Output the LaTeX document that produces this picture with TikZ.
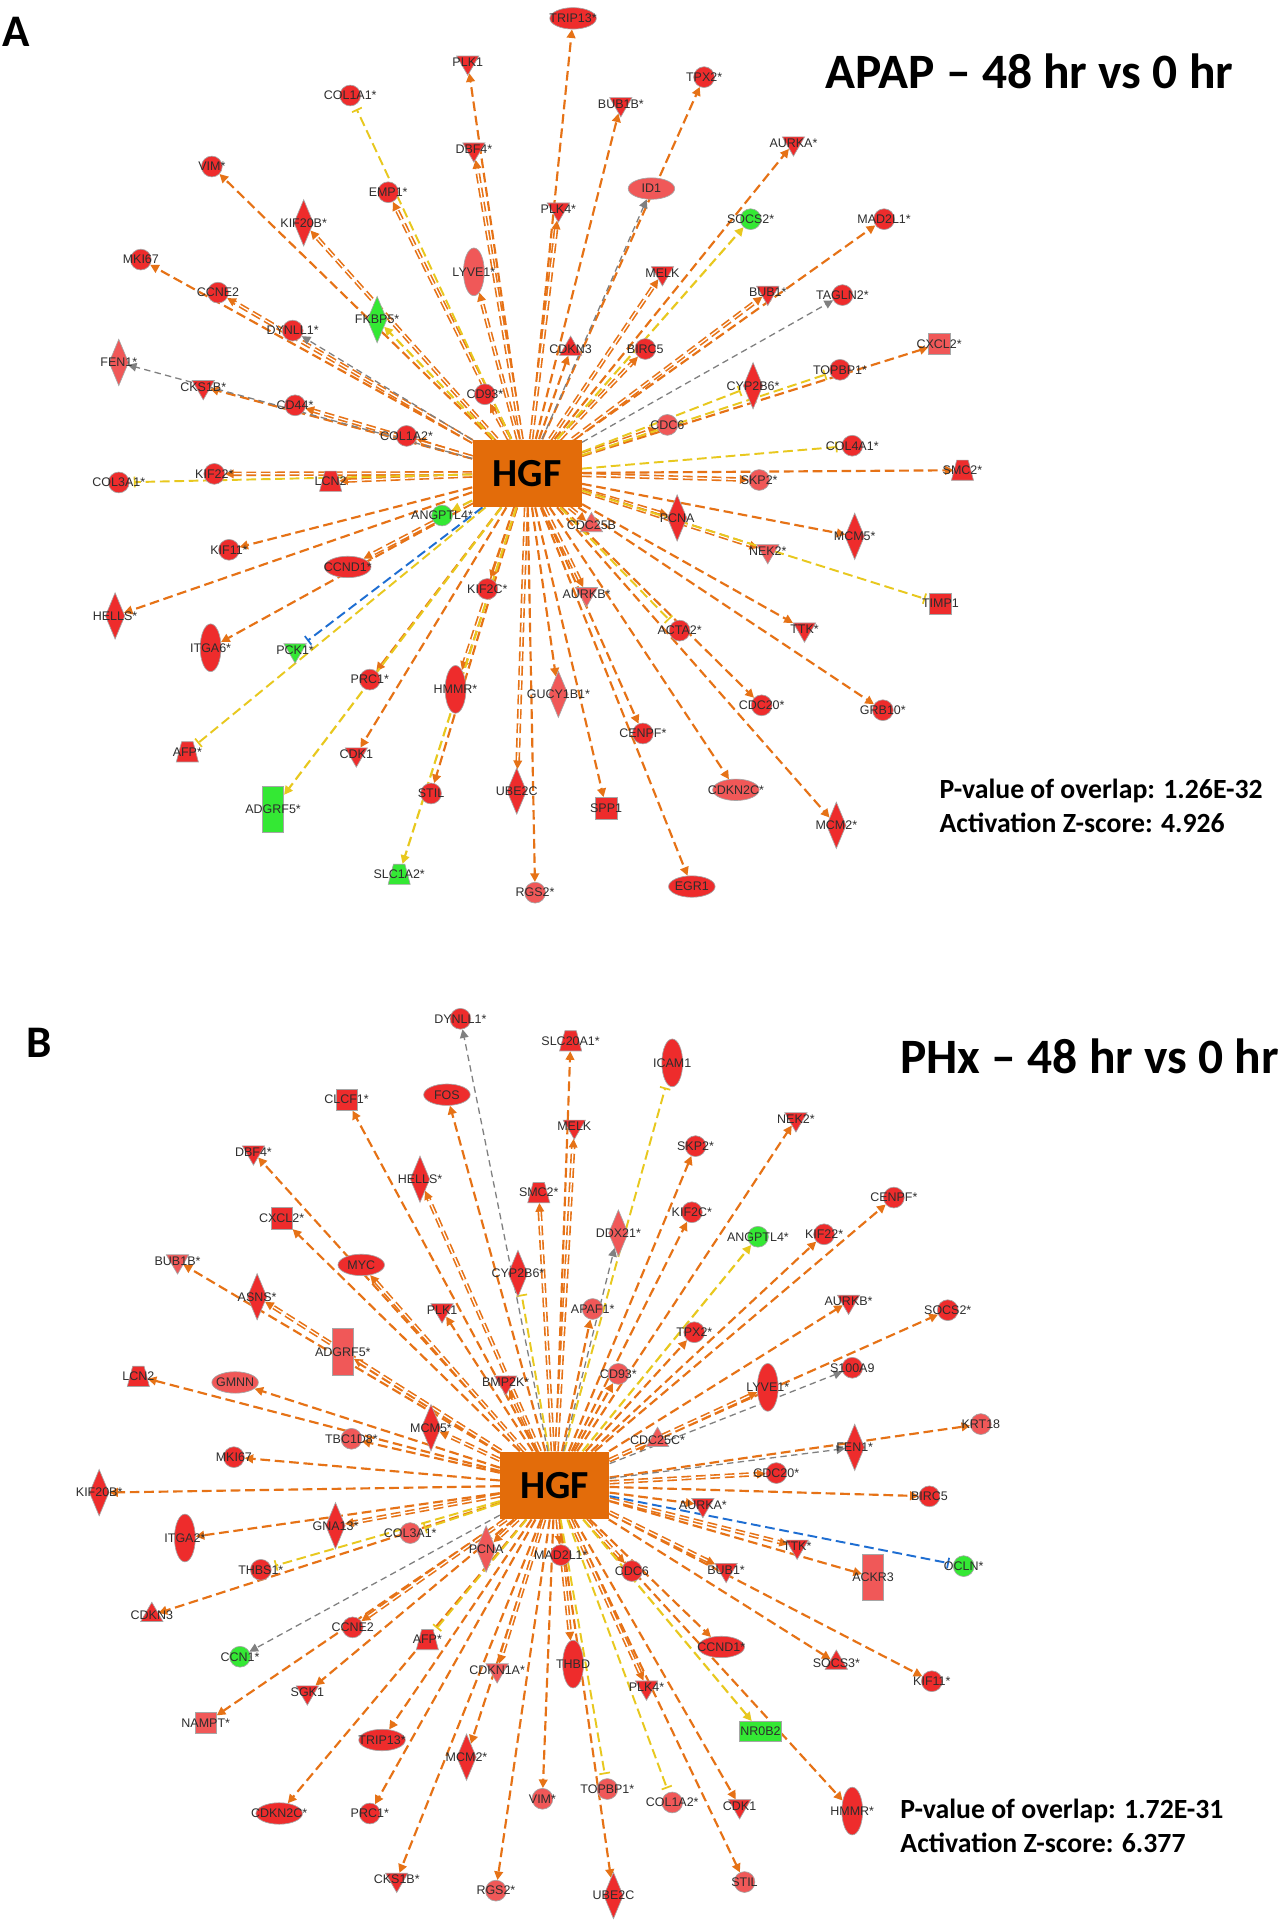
\documentclass[tikz,border=0pt]{standalone}
\usepackage{fontspec}
\setmainfont{Liberation Sans}
\newfontfamily\calib{Carlito}
\usetikzlibrary{shapes.geometric,arrows.meta}
\pgfdeclarelayer{bg}
\pgfsetlayers{bg,main}
\definecolor{hgfor}{RGB}{227,108,10}
\definecolor{eorg}{RGB}{230,114,22}
\definecolor{eyel}{RGB}{232,200,30}
\definecolor{egry}{RGB}{128,128,128}
\definecolor{eblu}{RGB}{30,110,210}
\definecolor{gred}{RGB}{238,44,44}
\definecolor{gpnk}{RGB}{240,88,88}
\definecolor{ggrn}{RGB}{52,232,52}
\definecolor{gtxt}{RGB}{45,45,45}
% one gene: name, position, shape and fill, label
\def\gene#1#2#3#4{\node[#3] (#1) at (#2) {}; \node[lbl] at (#1) {#4};}
\tikzset{
  gene/.style={draw=black!35,line width=0.3pt,inner sep=0pt},
  circ/.style={gene,circle,minimum size=0.34cm},
  dtri/.style={gene,regular polygon,regular polygon sides=3,shape border rotate=180,minimum size=0.42cm},
  utri/.style={gene,regular polygon,regular polygon sides=3,minimum size=0.42cm},
  diam/.style={gene,diamond,minimum width=0.32cm,minimum height=0.76cm},
  vell/.style={gene,ellipse,minimum width=0.34cm,minimum height=0.78cm},
  hell/.style={gene,ellipse,minimum width=0.76cm,minimum height=0.35cm},
  sq/.style={gene,rectangle,minimum size=0.35cm},
  trap/.style={gene,trapezium,inner sep=1pt,trapezium left angle=65,trapezium right angle=65,
    trapezium stretches=true,minimum width=0.36cm,minimum height=0.33cm},
  vrect/.style={gene,rectangle,minimum width=0.35cm,minimum height=0.76cm},
  wrect/.style={gene,rectangle,minimum width=0.68cm,minimum height=0.33cm},
  rd/.style={fill=gred}, pk/.style={fill=gpnk}, gn/.style={fill=ggrn},
  lbl/.style={font=\fontsize{5.8}{6}\selectfont,text=gtxt,inner sep=0pt},
  hub/.style={fill=hgfor,inner sep=0pt,minimum width=1.78cm,minimum height=1.1cm,
    font=\calib\bfseries\fontsize{18.5}{20}\selectfont},
  ttl/.style={anchor=base west,inner sep=0pt,font=\calib\bfseries\fontsize{23}{27}\selectfont},
  stat/.style={anchor=base west,inner sep=0pt,align=left,font=\calib\bfseries\fontsize{12.9}{15.9}\selectfont},
  act/.style={draw=eorg,line width=1pt,dash pattern=on 4.5pt off 2.2pt,-{Triangle[length=4pt,width=4pt]}},
  dbl/.style={line width=0.75pt,double=white,double distance=0.6pt},
  yact/.style={act,draw=eyel},
  ybar/.style={draw=eyel,line width=0.9pt,dash pattern=on 4.5pt off 2.2pt,-{Bar[width=5pt,line width=0.8pt]},shorten >=2pt},
  gact/.style={draw=egry,line width=0.6pt,dash pattern=on 3pt off 2pt,-{Triangle[length=4pt,width=4pt]}},
  bbar/.style={ybar,draw=eblu}
}
\begin{document}
\begin{tikzpicture}[x=0.02cm,y=-0.02cm]
\useasboundingbox (0,0) rectangle (1049,1568);

% panel A
\node[ttl] at (2,38) {\fontsize{21}{24}\selectfont A};
\node[ttl] at (674,72) {APAP – 48 hr vs 0 hr};
\node[stat] at (767,680) {P-value of overlap: 1.26E-32\\Activation Z-score: 4.926};
\node[hub] (hA) at (430.5,386.5) {HGF};

\gene{aTRIP13}{468,15}{hell,rd}{TRIP13*}
\gene{aPLK1}{382,51}{dtri,rd}{PLK1}
\gene{aCOL1A1}{286,78}{circ,rd}{COL1A1*}
\gene{aBUB1B}{507,85}{dtri,rd}{BUB1B*}
\gene{aTPX2}{575,63}{circ,rd}{TPX2*}
\gene{aDBF4}{387,122}{dtri,rd}{DBF4*}
\gene{aAURKA}{648,117}{dtri,rd}{AURKA*}
\gene{aVIM}{173,136}{circ,rd}{VIM*}
\gene{aEMP1}{317,157}{circ,rd}{EMP1*}
\gene{aID1}{532,154}{hell,pk}{ID1}
\gene{aSOCS2}{613,179}{circ,gn}{SOCS2*}
\gene{aMAD2L1}{722,179}{circ,rd}{MAD2L1*}
\gene{aPLK4}{456,171}{dtri,rd}{PLK4*}
\gene{aKIF20B}{248,182}{diam,rd}{KIF20B*}
\gene{aLYVE1}{387,222}{vell,pk}{LYVE1*}
\gene{aMKI67}{115,212}{circ,rd}{MKI67}
\gene{aCCNE2}{178,239}{circ,rd}{CCNE2}
\gene{aMELK}{541,223}{dtri,rd}{MELK}
\gene{aBUB1}{627,239}{dtri,rd}{BUB1*}
\gene{aTAGLN2}{688,241}{circ,rd}{TAGLN2*}
\gene{aFKBP5}{308,261}{diam,gn}{FKBP5*}
\gene{aDYNLL1}{239,270}{circ,rd}{DYNLL1*}
\gene{aCDKN3}{466,285}{utri,rd}{CDKN3}
\gene{aBIRC5}{527,285}{circ,rd}{BIRC5}
\gene{aFEN1}{97,296}{diam,pk}{FEN1*}
\gene{aCXCL2}{767,281}{sq,pk}{CXCL2*}
\gene{aCYP2B6}{615,315}{diam,rd}{CYP2B6*}
\gene{aTOPBP1}{686,302}{circ,rd}{TOPBP1*}
\gene{aCKS1B}{166,316}{dtri,rd}{CKS1B*}
\gene{aCD93}{396,322}{circ,rd}{CD93*}
\gene{aCD44}{241,331}{circ,rd}{CD44*}
\gene{aCDC6}{545,347}{circ,pk}{CDC6}
\gene{aCOL1A2}{332,356}{circ,rd}{COL1A2*}
\gene{aCOL4A1}{696,364}{circ,rd}{COL4A1*}
\gene{aSMC2}{786,384}{trap,rd}{SMC2*}
\gene{aCOL3A1}{97,394}{circ,rd}{COL3A1*}
\gene{aKIF22}{175,387}{circ,rd}{KIF22*}
\gene{aLCN2}{270,393}{trap,rd}{LCN2}
\gene{aSKP2}{620,392}{circ,pk}{SKP2*}
\gene{aANGPTL4}{361,421}{circ,gn}{ANGPTL4*}
\gene{aCDC25B}{483,429}{utri,pk}{CDC25B}
\gene{aPCNA}{553,423}{diam,rd}{PCNA}
\gene{aMCM5}{698,438}{diam,rd}{MCM5*}
\gene{aNEK2}{627,450}{dtri,pk}{NEK2*}
\gene{aKIF11}{187,449}{circ,rd}{KIF11*}
\gene{aCCND1}{284,463}{hell,rd}{CCND1*}
\gene{aKIF2C}{398,481}{circ,rd}{KIF2C*}
\gene{aAURKB}{479,485}{dtri,pk}{AURKB*}
\gene{aTIMP1}{768,493}{sq,rd}{TIMP1}
\gene{aHELLS}{94,503}{diam,rd}{HELLS*}
\gene{aITGA6}{172,529}{vell,rd}{ITGA6*}
\gene{aPCK1}{241,531}{dtri,gn}{PCK1*}
\gene{aACTA2}{555,515}{circ,rd}{ACTA2*}
\gene{aTTK}{657,514}{dtri,rd}{TTK*}
\gene{aPRC1}{302,555}{circ,rd}{PRC1*}
\gene{aHMMR}{372,563}{vell,rd}{HMMR*}
\gene{aGUCY1B1}{456,567}{diam,pk}{GUCY1B1*}
\gene{aCENPF}{525,599}{circ,rd}{CENPF*}
\gene{aCDC20}{622,576}{circ,rd}{CDC20*}
\gene{aGRB10}{721,580}{circ,rd}{GRB10*}
\gene{aAFP}{153,614}{trap,rd}{AFP*}
\gene{aCDK1}{291,616}{dtri,rd}{CDK1}
\gene{aSTIL}{352,648}{circ,rd}{STIL}
\gene{aUBE2C}{422,646}{diam,rd}{UBE2C}
\gene{aSPP1}{495,660}{sq,rd}{SPP1}
\gene{aCDKN2C}{601,645}{hell,pk}{CDKN2C*}
\gene{aADGRF5}{223,661}{vrect,gn}{ADGRF5*}
\gene{aMCM2}{683,674}{diam,rd}{MCM2*}
\gene{aSLC1A2}{326,714}{trap,gn}{SLC1A2*}
\gene{aRGS2}{437,729}{circ,pk}{RGS2*}
\gene{aEGR1}{565,724}{hell,rd}{EGR1}

% panel B
\node[ttl] at (21,864) {\fontsize{21}{24}\selectfont B};
\node[ttl] at (735,877) {PHx – 48 hr vs 0 hr};
\node[stat] at (735,1513) {P-value of overlap: 1.72E-31\\Activation Z-score: 6.377};
\node[hub] (hB) at (453,1213) {HGF};

\gene{bDYNLL1}{376,832}{circ,rd}{DYNLL1*}
\gene{bSLC20A1}{466,850}{trap,rd}{SLC20A1*}
\gene{bICAM1}{549,868}{vell,rd}{ICAM1}
\gene{bCLCF1}{283,898}{sq,rd}{CLCF1*}
\gene{bFOS}{365,894}{hell,rd}{FOS}
\gene{bMELK}{469,920}{dtri,rd}{MELK}
\gene{bNEK2}{650,914}{dtri,rd}{NEK2*}
\gene{bDBF4}{207,941}{dtri,rd}{DBF4*}
\gene{bSKP2}{568,936}{circ,rd}{SKP2*}
\gene{bHELLS}{343,963}{diam,rd}{HELLS*}
\gene{bSMC2}{440,974}{trap,rd}{SMC2*}
\gene{bCENPF}{730,978}{circ,rd}{CENPF*}
\gene{bCXCL2}{230,995}{sq,rd}{CXCL2*}
\gene{bKIF2C}{565,990}{circ,rd}{KIF2C*}
\gene{bANGPTL4}{619,1010}{circ,gn}{ANGPTL4*}
\gene{bKIF22}{673,1008}{circ,rd}{KIF22*}
\gene{bDDX21}{505,1007}{diam,pk}{DDX21*}
\gene{bBUB1B}{145,1030}{dtri,pk}{BUB1B*}
\gene{bMYC}{295,1033}{hell,rd}{MYC}
\gene{bASNS}{210,1059}{diam,rd}{ASNS*}
\gene{bCYP2B6}{423,1040}{diam,rd}{CYP2B6*}
\gene{bPLK1}{361,1070}{dtri,rd}{PLK1}
\gene{bAPAF1}{484,1069}{circ,pk}{APAF1*}
\gene{bTPX2}{567,1088}{circ,rd}{TPX2*}
\gene{bAURKB}{693,1063}{dtri,rd}{AURKB*}
\gene{bSOCS2}{774,1070}{circ,rd}{SOCS2*}
\gene{bADGRF5}{280,1104}{vrect,pk}{ADGRF5*}
\gene{bBMP2K}{413,1129}{dtri,rd}{BMP2K*}
\gene{bCD93}{505,1122}{circ,pk}{CD93*}
\gene{bLYVE1}{627,1133}{vell,rd}{LYVE1*}
\gene{bS100A9}{696,1117}{circ,rd}{S100A9}
\gene{bGMNN}{192,1129}{hell,pk}{GMNN}
\gene{bLCN2}{113,1124}{trap,rd}{LCN2}
\gene{bMCM5}{352,1166}{diam,rd}{MCM5*}
\gene{bTBC1D8}{287,1175}{circ,pk}{TBC1D8*}
\gene{bCDC25C}{537,1176}{utri,pk}{CDC25C*}
\gene{bKRT18}{801,1163}{circ,pk}{KRT18}
\gene{bFEN1}{698,1182}{diam,rd}{FEN1*}
\gene{bMKI67}{191,1190}{circ,rd}{MKI67}
\gene{bCDC20}{634,1203}{circ,rd}{CDC20*}
\gene{bKIF20B}{81,1219}{diam,rd}{KIF20B*}
\gene{bBIRC5}{759,1222}{circ,rd}{BIRC5}
\gene{bAURKA}{574,1229}{dtri,rd}{AURKA*}
\gene{bITGA2}{151,1256}{vell,rd}{ITGA2*}
\gene{bGNA13}{274,1246}{diam,rd}{GNA13*}
\gene{bCOL3A1}{335,1252}{circ,pk}{COL3A1*}
\gene{bPCNA}{397,1265}{diam,pk}{PCNA}
\gene{bMAD2L1}{458,1270}{circ,rd}{MAD2L1*}
\gene{bOCLN}{787,1279}{circ,gn}{OCLN*}
\gene{bTTK}{651,1263}{dtri,rd}{TTK*}
\gene{bACKR3}{713,1288}{vrect,pk}{ACKR3}
\gene{bTHBS1}{213,1282}{circ,rd}{THBS1*}
\gene{bCDC6}{516,1283}{circ,rd}{CDC6}
\gene{bBUB1}{593,1282}{dtri,rd}{BUB1*}
\gene{bCDKN3}{124,1319}{utri,rd}{CDKN3}
\gene{bCCNE2}{288,1329}{circ,rd}{CCNE2}
\gene{bAFP}{349,1339}{trap,rd}{AFP*}
\gene{bCCN1}{196,1353}{circ,gn}{CCN1*}
\gene{bTHBD}{468,1359}{vell,rd}{THBD}
\gene{bCCND1}{589,1345}{hell,rd}{CCND1*}
\gene{bSOCS3}{683,1358}{utri,rd}{SOCS3*}
\gene{bCDKN1A}{406,1364}{dtri,pk}{CDKN1A*}
\gene{bSGK1}{251,1382}{dtri,rd}{SGK1}
\gene{bPLK4}{528,1378}{dtri,rd}{PLK4*}
\gene{bKIF11}{761,1373}{circ,rd}{KIF11*}
\gene{bNAMPT}{168,1407}{sq,pk}{NAMPT*}
\gene{bNR0B2}{621,1414}{wrect,gn}{NR0B2}
\gene{bTRIP13}{312,1421}{hell,rd}{TRIP13*}
\gene{bMCM2}{381,1435}{diam,rd}{MCM2*}
\gene{bVIM}{443,1469}{circ,pk}{VIM*}
\gene{bTOPBP1}{496,1461}{circ,pk}{TOPBP1*}
\gene{bCOL1A2}{549,1472}{circ,pk}{COL1A2*}
\gene{bCDK1}{604,1475}{dtri,rd}{CDK1}
\gene{bHMMR}{696,1479}{vell,rd}{HMMR*}
\gene{bCDKN2C}{228,1481}{hell,rd}{CDKN2C*}
\gene{bPRC1}{302,1481}{circ,rd}{PRC1*}
\gene{bCKS1B}{324,1535}{dtri,rd}{CKS1B*}
\gene{bRGS2}{405,1544}{circ,pk}{RGS2*}
\gene{bUBE2C}{501,1548}{diam,rd}{UBE2C}
\gene{bSTIL}{608,1537}{circ,pk}{STIL}

% connectors under the genes
\begin{pgfonlayer}{bg}
\fill[white] (0,0) rectangle (1049,1568);
\foreach \g in {aPLK1,aTRIP13,aBUB1B,aTPX2,aAURKA,aVIM,aMAD2L1,aMKI67,aCDKN3,
  aCXCL2,aCKS1B,aCOL1A2,aSMC2,aMCM5,aKIF11,aHELLS,aITGA6,aTTK,aPRC1,aGUCY1B1,
  aCENPF,aCDC20,aGRB10,aCDK1,aSTIL,aSPP1,aCDKN2C,aMCM2,aRGS2,aEGR1}
  \draw[act] (hA) -- (\g);
\foreach \g in {aDBF4,aEMP1,aKIF20B,aCCNE2,aCD44,aMELK,aBUB1,aCDC6,aPCNA,aNEK2,
  aCCND1,aKIF2C,aHMMR,aUBE2C,aLYVE1,aKIF22,aLCN2,aCD93,aPLK4,aBIRC5,aAURKB,aCDC25B,aSKP2}
  \draw[act,dbl] (hA) -- (\g);
\foreach \g in {aFKBP5,aSOCS2,aANGPTL4,aADGRF5,aSLC1A2}
  \draw[yact] (hA) -- (\g);
\foreach \g in {aCOL1A1,aCYP2B6,aTOPBP1,aCOL4A1,aTIMP1,aAFP,aCOL3A1,aACTA2}
  \draw[ybar] (hA) -- (\g);
\foreach \g in {aDYNLL1,aFEN1,aID1,aTAGLN2}
  \draw[gact] (hA) -- (\g);
\draw[bbar] (hA) -- (aPCK1);

\foreach \g in {bSLC20A1,bCLCF1,bFOS,bNEK2,bDBF4,bSKP2,bCENPF,bCXCL2,bKIF2C,bKIF22,
  bBUB1B,bPLK1,bAPAF1,bTPX2,bAURKB,bSOCS2,bCD93,bGMNN,bLCN2,bTBC1D8,bCDC25C,bKRT18,
  bMKI67,bKIF20B,bBIRC5,bAURKA,bITGA2,bACKR3,bCDKN3,bCCND1,bSOCS3,bSGK1,bKIF11,
  bNAMPT,bTRIP13,bMCM2,bVIM,bCDK1,bHMMR,bCDKN2C,bPRC1,bCKS1B,bRGS2,bUBE2C,bSTIL}
  \draw[act] (hB) -- (\g);
\foreach \g in {bMCM5,bADGRF5,bASNS,bMYC,bLYVE1,bTTK,bBUB1,bMELK,bTHBD,bCDC20,
  bGNA13,bMAD2L1,bPCNA,bBMP2K,bHELLS,bCDKN1A,bPLK4,bCDC6,bCCNE2,bSMC2}
  \draw[act,dbl] (hB) -- (\g);
\foreach \g in {bANGPTL4,bNR0B2}
  \draw[yact] (hB) -- (\g);
\foreach \g in {bICAM1,bCYP2B6,bCOL3A1,bTHBS1,bAFP,bTOPBP1,bCOL1A2}
  \draw[ybar] (hB) -- (\g);
\foreach \g in {bDYNLL1,bDDX21,bS100A9,bFEN1,bCCN1}
  \draw[gact] (hB) -- (\g);
\draw[bbar] (hB) -- (bOCLN);
\end{pgfonlayer}
\end{tikzpicture}
\end{document}
